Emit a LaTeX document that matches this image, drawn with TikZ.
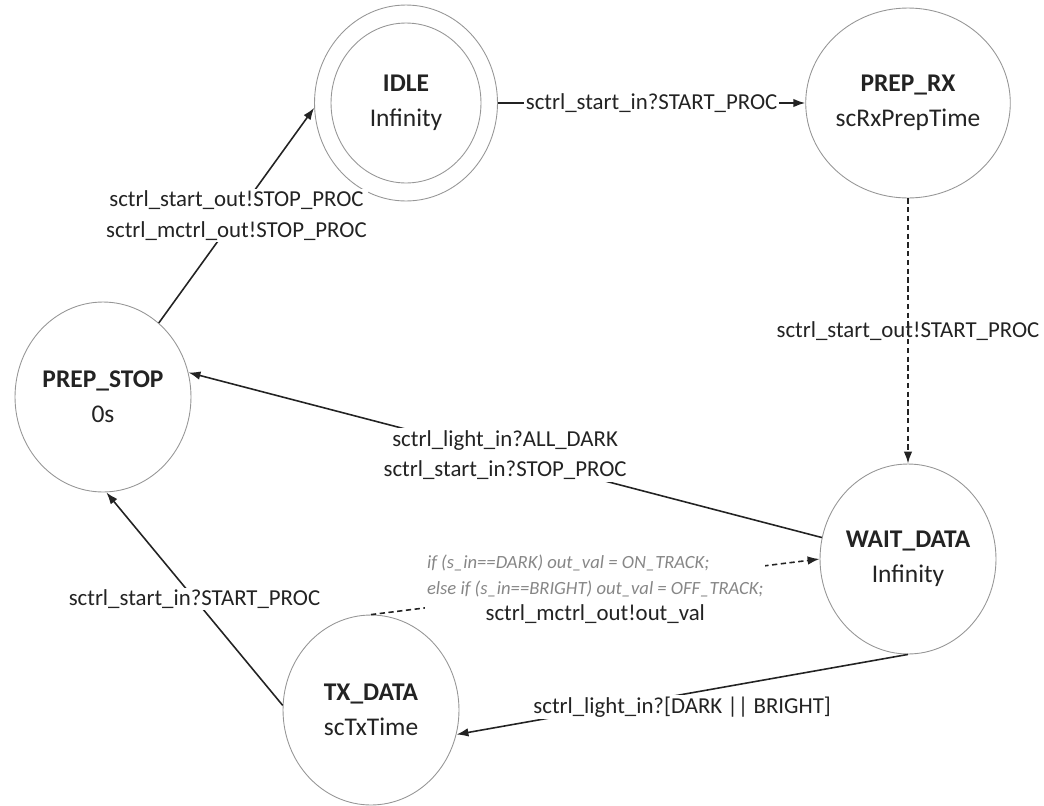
\documentclass[tikz,border=0pt]{standalone}
\usepackage{fontspec}
\setmainfont{Carlito}
\usetikzlibrary{arrows.meta,shapes.geometric}
\definecolor{Ring}{RGB}{150,150,150}
\definecolor{Note}{RGB}{135,135,135}
\definecolor{Ink}{RGB}{35,35,35}

\begin{document}
\begin{tikzpicture}[x=0.02cm,y=-0.02cm,
  state/.style={ellipse,draw=Ring,line width=.5pt,minimum width=3.52cm,minimum height=3.8cm,inner sep=0pt,align=center,text=Ink,font=\fontsize{14.5}{20}\selectfont},
  trans/.style={-{Latex[length=2.4mm,width=1.7mm]},line width=.9pt,Ink},
  send/.style={trans,dash pattern=on 3pt off 2pt},
  guard/.style={font=\fontsize{13}{17.5}\selectfont,text=Ink,align=center,fill=white,inner sep=1pt}]
\useasboundingbox (0,0) rectangle (1044,805);
\node[state,minimum width=3.66cm,minimum height=3.92cm] (idle) at (406,103) {};
\node[state,minimum width=3.0cm,minimum height=3.2cm] (idlein) at (idle) {\textbf{IDLE}\\Infinity};
\node[state] (rx) at (908,103) {\textbf{PREP\_RX}\\scRxPrepTime};
\node[state] (stop) at (103,397) {\textbf{PREP\_STOP}\\0s};
\node[state] (wait) at (908,559) {\textbf{WAIT\_DATA}\\Infinity};
\node[state] (tx) at (371,710) {\textbf{TX\_DATA}\\scTxTime};
\draw[trans] (idle.east) -- node[guard] {sctrl\_start\_in?START\_PROC} (rx.west);
\draw[send] (rx.south) -- node[guard,fill=none] {sctrl\_start\_out!START\_PROC} (wait.north);
\draw[trans] (stop.53) -- node[guard] {sctrl\_start\_out!STOP\_PROC\\sctrl\_mctrl\_out!STOP\_PROC} (idle.183);
\draw[trans] (wait.166) -- node[guard] {sctrl\_light\_in?ALL\_DARK\\sctrl\_start\_in?STOP\_PROC} (stop.16);
\draw[trans] (wait.south) -- node[guard,yshift=-.26cm] {sctrl\_light\_in?[DARK || BRIGHT]} (tx.344);
\draw[trans] (tx.177) -- node[guard] {sctrl\_start\_in?START\_PROC} (stop.272);
\draw[send] (tx.north) -- node[guard] {{\color{Note}\itshape\fontsize{10.6}{15}\selectfont\begin{tabular}{@{}l@{}}if (s\_in==DARK) out\_val = ON\_TRACK;\\else if (s\_in==BRIGHT) out\_val = OFF\_TRACK;\end{tabular}}\\sctrl\_mctrl\_out!out\_val} (wait.west);
\end{tikzpicture}
\end{document}
